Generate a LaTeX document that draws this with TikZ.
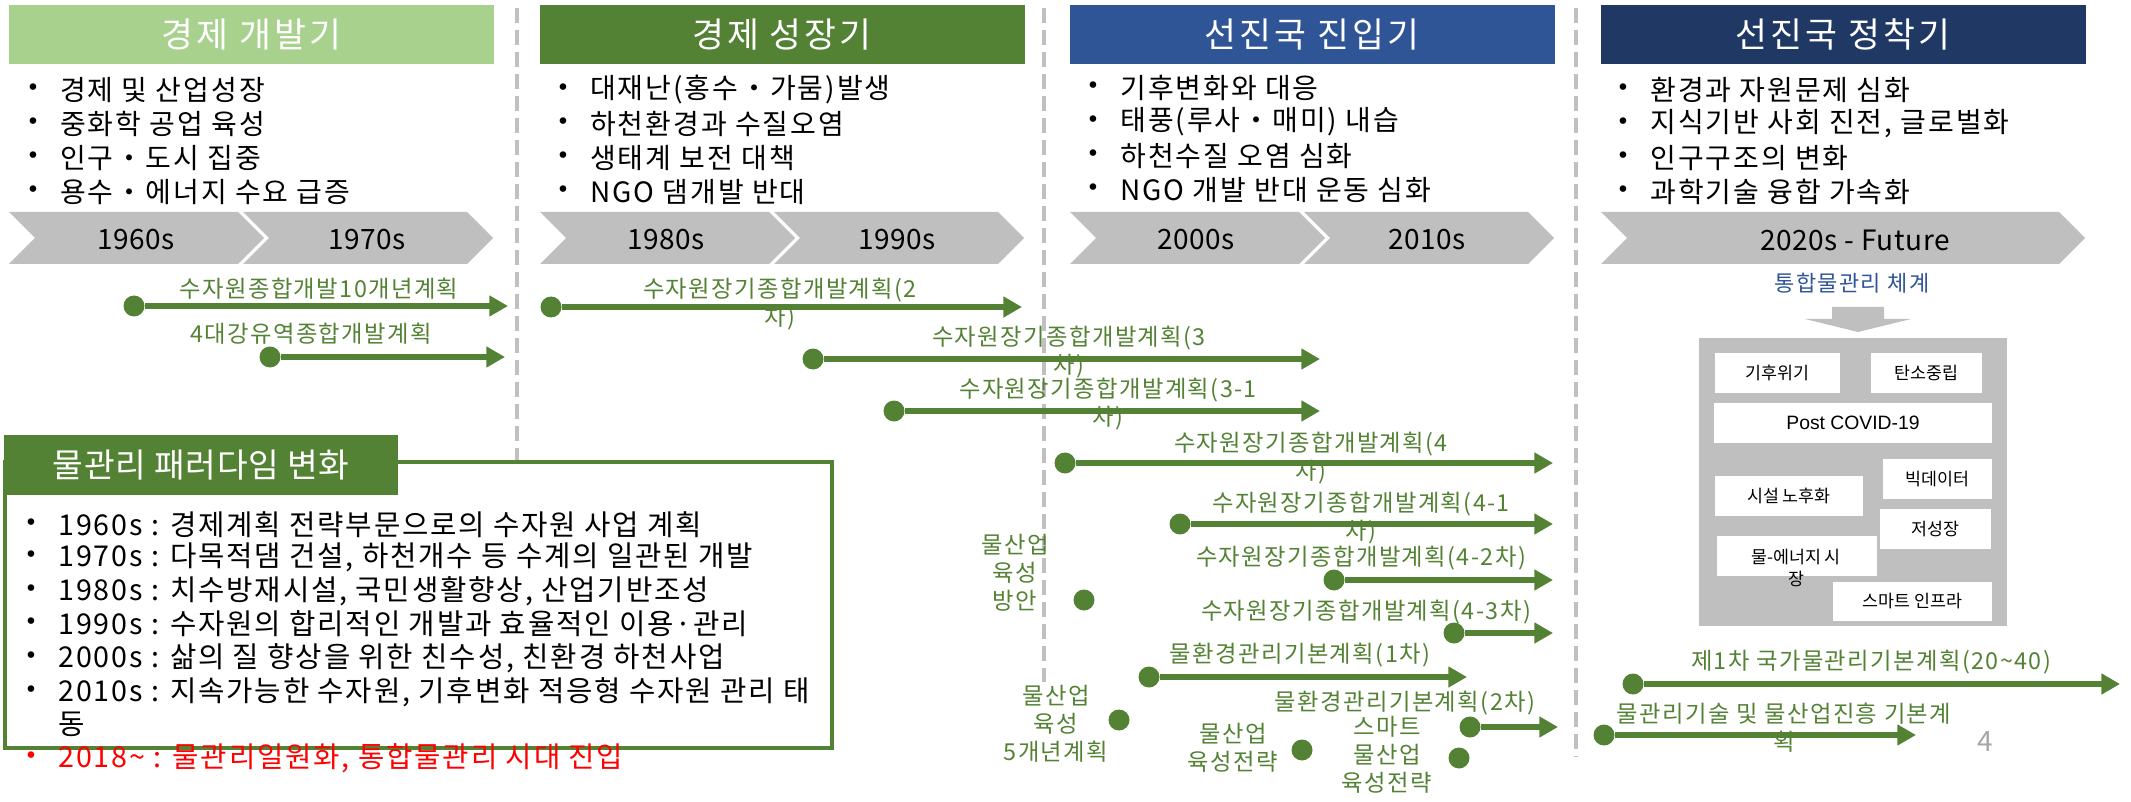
\documentclass[tikz,border=0pt]{standalone}
\usepackage{fontspec}
\setmainfont{Noto Sans CJK KR}
\newfontfamily\dv{DejaVu Sans}
\newfontfamily\hfont[LetterSpace=9]{Noto Sans CJK KR}
\newfontfamily\bfontk[LetterSpace=7]{Noto Sans CJK KR}
\newfontfamily\pfont[LetterSpace=6.5]{Noto Sans CJK KR}
\newfontfamily\gfont[LetterSpace=6]{Noto Sans CJK KR}
\newfontfamily\yfont[LetterSpace=2]{Noto Sans CJK KR}
\newfontfamily\lsans{Liberation Sans}
\usetikzlibrary{arrows.meta}
\definecolor{hA}{HTML}{A9D18E}
\definecolor{hB}{HTML}{548235}
\definecolor{hC}{HTML}{2F5597}
\definecolor{hD}{HTML}{203864}
\definecolor{chev}{HTML}{BFBFBF}
\definecolor{gr}{HTML}{548235}
\definecolor{sepc}{HTML}{C0C0C0}
\definecolor{pg}{HTML}{A6A6A6}
\newcommand{\mkbul}[5]{\node[bdot] (#1b) at (#3,#4) {•}; \node[#2] (#1) at (#3+27,#4) {#5};}
\newcommand{\garrow}[4]{\node[gdot] (#1) at (#2,#4) {}; \coordinate (#1e) at (#3,#4); \draw[garr] (#1) -- (#1e);}
\begin{document}
\begin{tikzpicture}[x=0.75pt,y=-0.75pt,
 hdr/.style={inner sep=0, minimum width=363.75pt, minimum height=44.25pt, text=white, font=\hfont\fontsize{26pt}{30pt}\selectfont},
 blt/.style={anchor=west, inner sep=0, font=\bfontk\fontsize{21pt}{25pt}\selectfont},
 bdot/.style={anchor=center, inner sep=0, font=\dv\fontsize{17pt}{20pt}\selectfont},
 yr/.style={inner sep=0, font=\yfont\fontsize{21pt}{25pt}\selectfont},
 gdot/.style={circle, fill=gr, inner sep=0, minimum size=15.75pt},
 garr/.style={draw=gr, line width=4.5pt, -{Triangle[length=14pt,width=15pt]}},
 glbl/.style={inner sep=0, text=gr, align=center, font=\gfont\fontsize{17.5pt}{21pt}\selectfont},
 sepl/.style={draw=sepc, line width=2.6pt, dash pattern=on 11pt off 5.5pt},
 pline/.style={anchor=west, inner sep=0, font=\pfont\fontsize{21.5pt}{25pt}\selectfont},
 ibox/.style={fill=white, inner sep=0, font=\fontsize{13pt}{16pt}\selectfont},
]
\useasboundingbox (0,0) rectangle (2131,802);
% separators
\draw[sepl] (517,8) -- (517,462);
\draw[sepl] (1044,8) -- (1044,682);
\draw[sepl] (1576,8) -- (1576,757);
% headers
\node[hdr, fill=hA] (h1) at (251.5,34.5) {경제 개발기};
\node[hdr, fill=hB] (h2) at (782,34.5) {경제 성장기};
\node[hdr, fill=hC] (h3) at (1312,34.5) {선진국 진입기};
\node[hdr, fill=hD] (h4) at (1843,34.5) {선진국 정착기};
% bullets
\mkbul{s1a}{blt}{33}{90}{경제 및 산업성장}
\mkbul{s1b}{blt}{33}{124}{중화학 공업 육성}
\mkbul{s1c}{blt}{33}{158}{인구・도시 집중}
\mkbul{s1d}{blt}{33}{192}{용수・에너지 수요 급증}
\mkbul{s2a}{blt}{563}{90}{대재난(홍수・가뭄)발생}
\mkbul{s2b}{blt}{563}{124}{하천환경과 수질오염}
\mkbul{s2c}{blt}{563}{158}{생태계 보전 대책}
\mkbul{s2d}{blt}{563}{192}{NGO 댐개발 반대}
\mkbul{s3a}{blt}{1093}{88}{기후변화와 대응}
\mkbul{s3b}{blt}{1093}{122}{태풍(루사・매미) 내습}
\mkbul{s3c}{blt}{1093}{156}{하천수질 오염 심화}
\mkbul{s3d}{blt}{1093}{190}{NGO 개발 반대 운동 심화}
\mkbul{s4a}{blt}{1623}{90}{환경과 자원문제 심화}
\mkbul{s4b}{blt}{1623}{124}{지식기반 사회 진전, 글로벌화}
\mkbul{s4c}{blt}{1623}{158}{인구구조의 변화}
\mkbul{s4d}{blt}{1623}{192}{과학기술 융합 가속화}
% chevrons
\foreach \xl/\xr in {9/238, 243/467, 540/769, 774/998, 1070/1299, 1304/1528, 1601/2059}
  \fill[chev] (\xl,212) -- (\xr,212) -- (\xr+26,238) -- (\xr,264) -- (\xl,264) -- (\xl+26,238) -- cycle;
\node[yr] (y60) at (136,240) {1960s};
\node[yr] (y70) at (367,240) {1970s};
\node[yr] (y80) at (666,240) {1980s};
\node[yr] (y90) at (897,240) {1990s};
\node[yr] (y00) at (1196,240) {2000s};
\node[yr] (y10) at (1427,240) {2010s};
\node[yr] (y20) at (1855,240) {2020s - Future};
% paradigm box
\draw[gr, line width=2.6pt] (5,462) rectangle (832,748);
\node[fill=gr, text=white, inner sep=0, minimum width=295.5pt, minimum height=45pt, font=\yfont\fontsize{25pt}{30pt}\selectfont] (ptitle) at (201,465) {물관리 패러다임 변화};
\mkbul{p1}{pline}{31}{525}{1960s : 경제계획 전략부문으로의 수자원 사업 계획}
\mkbul{p2}{pline}{31}{557}{1970s : 다목적댐 건설, 하천개수 등 수계의 일관된 개발}
\mkbul{p3}{pline}{31}{591}{1980s : 치수방재시설, 국민생활향상, 산업기반조성}
\mkbul{p4}{pline}{31}{624}{1990s : 수자원의 합리적인 개발과 효율적인 이용·관리}
\mkbul{p5}{pline}{31}{658}{2000s : 삶의 질 향상을 위한 친수성, 친환경 하천사업}
\mkbul{p6}{pline}{31}{692}{2010s : 지속가능한 수자원, 기후변화 적응형 수자원 관리 태}
\node[pline] (p6b) at (58,724) {동};
\node[bdot, text=red] (p7b) at (31,758) {•};
\node[pline, text=red] (p7) at (58,758) {2018\textasciitilde{} : 물관리일원화, 통합물관리 시대 진입};
% green arrows
\garrow{a1}{134}{508}{306}
\garrow{a2}{270}{505}{357}
\garrow{a3}{551}{1022}{307}
\garrow{a4}{813}{1320}{359}
\garrow{a5}{894}{1320}{411}
\garrow{a6}{1065}{1553}{463}
\garrow{a7}{1180}{1553}{524}
\garrow{a8}{1334}{1553}{580}
\garrow{a9}{1454}{1553}{633}
\garrow{a10}{1149}{1467}{677}
\garrow{a11}{1470}{1558}{727}
\garrow{a12}{1633}{2120}{684}
\garrow{a13}{1604}{1916}{735}
\node[glbl] (l1) at (319,289) {수자원종합개발10개년계획};
\node[glbl] (l2) at (311,334) {4대강유역종합개발계획};
\node[glbl] (l3) at (780,304) {수자원장기종합개발계획(2\\차)};
\node[glbl] (l4) at (1069,352.5) {수자원장기종합개발계획(3\\차)};
\node[glbl] (l5) at (1108,404) {수자원장기종합개발계획(3-1\\차)};
\node[glbl] (l6) at (1311,458.5) {수자원장기종합개발계획(4\\차)};
\node[glbl] (l7) at (1361,518) {수자원장기종합개발계획(4-1\\차)};
\node[glbl] (l8) at (1361,558) {수자원장기종합개발계획(4-2차)};
\node[glbl] (l9) at (1366,612) {수자원장기종합개발계획(4-3차)};
\node[glbl] (l10) at (1300,655) {물환경관리기본계획(1차)};
\node[glbl] (l11) at (1405,703) {물환경관리기본계획(2차)};
\node[glbl] (l12) at (1871,662) {제1차 국가물관리기본계획(20\textasciitilde 40)};
\node[glbl] (l13) at (1784,728) {물관리기술 및 물산업진흥 기본계\\획};
% standalone dots
\node[gdot] (d1) at (1084,600) {};
\node[glbl] (d1l) at (1015,572.5) {물산업\\육성\\방안};
\node[gdot] (d2) at (1119,720) {};
\node[glbl] (d2l) at (1056,723.5) {물산업\\육성\\5개년계획};
\node[gdot] (d3) at (1302,750) {};
\node[glbl] (d3l) at (1233,747.5) {물산업\\육성전략};
\node[gdot] (d4) at (1459,758) {};
\node[glbl] (d4l) at (1387,754.5) {스마트\\물산업\\육성전략};
% integrated management
\node[inner sep=0, text=hC, font=\gfont\fontsize{16.5pt}{20pt}\selectfont] (tt) at (1852,283) {통합물관리 체계};
\fill[chev] (1832,307) -- (1884,307) -- (1884,319) -- (1911,319) -- (1858,332) -- (1805,319) -- (1832,319) -- cycle;
\fill[chev] (1699,338) rectangle (2007,626);
\node[ibox, minimum width=93.75pt, minimum height=30pt] (b1) at (1777.5,373) {기후위기};
\node[ibox, minimum width=83.25pt, minimum height=30pt] (b2) at (1926.5,373) {탄소중립};
\node[ibox, minimum width=208.5pt, minimum height=30pt, font=\lsans\fontsize{14.5pt}{17pt}\selectfont] (b3) at (1853,423) {Post COVID-19};
\node[ibox, minimum width=81.75pt, minimum height=30pt] (b4) at (1937.5,479) {빅데이터};
\node[ibox, minimum width=111pt, minimum height=30pt] (b5) at (1789,496) {시설 노후화};
\node[ibox, minimum width=83.25pt, minimum height=30pt] (b6) at (1935.5,529) {저성장};
\node[ibox, minimum width=120pt, minimum height=30pt] (b7) at (1797,555.5) {};
\node[inner sep=0, align=center, font=\fontsize{13pt}{16.5pt}\selectfont] (b7t) at (1796,568) {물-에너지 시\\장};
\node[ibox, minimum width=119.25pt, minimum height=29.25pt] (b8) at (1912.5,601.5) {스마트 인프라};
\node[inner sep=0, text=pg, font=\fontsize{21pt}{25pt}\selectfont] (pn) at (1985,742) {4};
\end{tikzpicture}
\end{document}
